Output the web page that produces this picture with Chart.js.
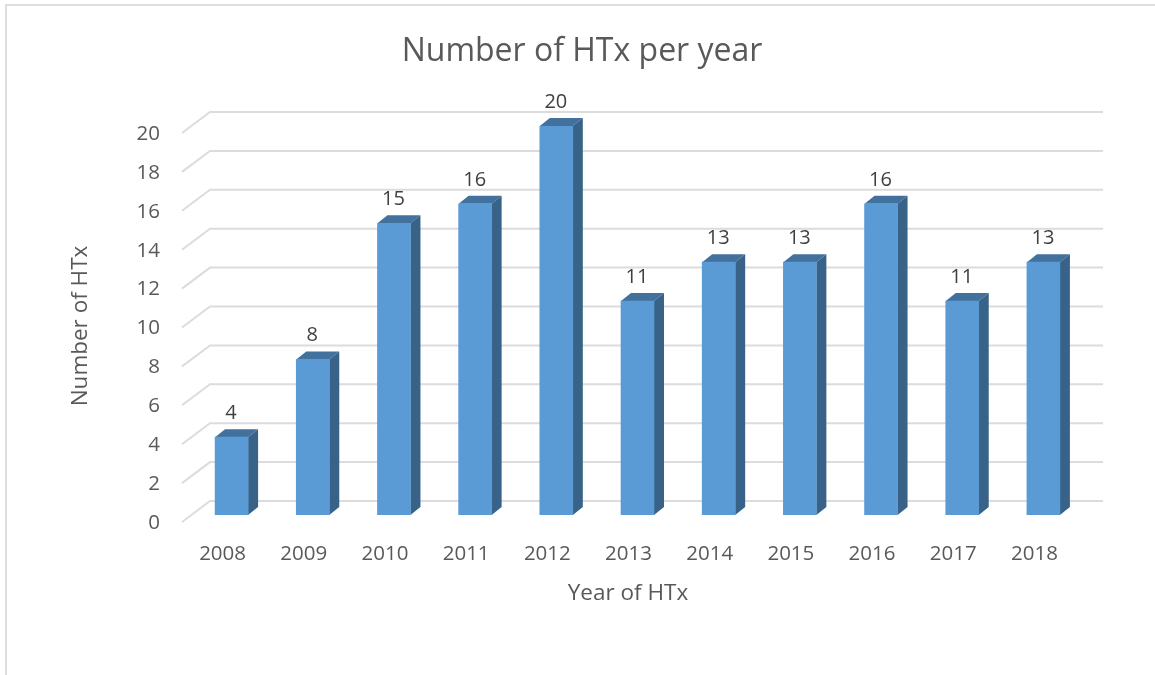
<!DOCTYPE html>
<html>
<head>
<meta charset="utf-8">
<title>Number of HTx per year</title>
<script src="https://cdn.jsdelivr.net/npm/chart.js@4"></script>
<style>
  html, body { margin: 0; padding: 0; background: #fff; overflow: hidden; }
  #wrap { position: absolute; left: 0; top: 0; width: 1155px; height: 675px; }
  #frame { position: absolute; left: 5px; top: 4px; width: 1155px; height: 675px; border: 2px solid #dedede; box-sizing: border-box; }
</style>
</head>
<body>
<div id="wrap">
  <div id="frame"></div>
  <canvas id="cuadro" width="1155" height="675" style="position:absolute;left:0;top:0"></canvas>
</div>
<script>
const years = ["2008", "2009", "2010", "2011", "2012", "2013", "2014", "2015", "2016", "2017", "2018"];
const htx = [4, 8, 15, 16, 20, 11, 13, 13, 16, 11, 13];
const y_ticks = [0, 2, 4, 6, 8, 10, 12, 14, 16, 18, 20];

const fuente = "'Open Sans', sans-serif";

// fake 3D box depth of the bars and of the wall behind them
const bar_dx = 10, bar_dy = 8;

const caja3d = {
  id: 'caja3d',
  beforeDatasetsDraw(chart) {
    const { ctx, scales, chartArea } = chart;
    ctx.save();
    // walls: diagonal on the side, then straight along the back
    ctx.strokeStyle = '#dcdcdc';
    ctx.lineWidth = 2;
    y_ticks.forEach(v => {
      const y = scales.y.getPixelForValue(v);
      ctx.beginPath();
      ctx.moveTo(chartArea.left - 9, y + 7);
      ctx.lineTo(chartArea.left + 19, y - 14);
      ctx.lineTo(chartArea.right + 19, y - 14);
      ctx.stroke();
    });
    // top and side faces of each bar
    chart.getDatasetMeta(0).data.forEach(bar => {
      const l = bar.x - bar.width / 2, r = bar.x + bar.width / 2;
      ctx.fillStyle = '#41719c';
      ctx.beginPath();
      ctx.moveTo(l, bar.y);
      ctx.lineTo(l + bar_dx, bar.y - bar_dy);
      ctx.lineTo(r + bar_dx, bar.y - bar_dy);
      ctx.lineTo(r, bar.y);
      ctx.closePath();
      ctx.fill();
      ctx.fillStyle = '#386287';
      ctx.beginPath();
      ctx.moveTo(r, bar.y);
      ctx.lineTo(r + bar_dx, bar.y - bar_dy);
      ctx.lineTo(r + bar_dx, bar.base - bar_dy);
      ctx.lineTo(r, bar.base);
      ctx.closePath();
      ctx.fill();
    });
    ctx.restore();
  },
  afterDatasetsDraw(chart) {
    const { ctx } = chart;
    ctx.save();
    ctx.textAlign = 'center';
    ctx.textBaseline = 'middle';
    // value labels
    ctx.fillStyle = '#404040';
    ctx.font = "20px " + fuente;
    chart.getDatasetMeta(0).data.forEach((bar, i) => {
      ctx.fillText(htx[i], bar.x - 0.5, bar.y - 24);
    });
    // titles sit off centre in the original
    ctx.fillStyle = '#595959';
    ctx.font = "32px " + fuente;
    ctx.fillText("Number of HTx per year", 582, 52);
    ctx.font = "22.5px " + fuente;
    ctx.fillText("Year of HTx", 628, 594);
    ctx.translate(81, 326);
    ctx.rotate(-Math.PI / 2);
    ctx.fillText("Number of HTx", 0, 0);
    ctx.restore();
  }
};

const ctx = document.getElementById("cuadro");

new Chart(ctx, {
  type: "bar",
  data: {
    labels: years,
    datasets: [
      {
        label: "Number of HTx",
        data: htx,
        backgroundColor: "#5b9bd5",
        barThickness: 33
      }
    ]
  },
  options: {
    responsive: false,
    animation: false,
    layout: { padding: { top: 126, right: 71, left: 0, bottom: 0 } },
    plugins: { legend: { display: false }, tooltip: { enabled: false } },
    scales: {
      x: {
        grid: { display: false },
        border: { display: false },
        afterFit: s => { s.height = 160; },
        ticks: { color: "#595959", font: { family: fuente, size: 20.5 }, padding: 19, labelOffset: -9, maxRotation: 0 }
      },
      y: {
        min: 0,
        max: 20,
        grid: { display: false, drawTicks: false },
        border: { display: false },
        afterFit: s => { s.width = 191; },
        ticks: { color: "#595959", font: { family: fuente, size: 20.5 }, stepSize: 2, padding: 31, labelOffset: 8 }
      }
    }
  },
  plugins: [caja3d]
});
</script>
</body>
</html>
